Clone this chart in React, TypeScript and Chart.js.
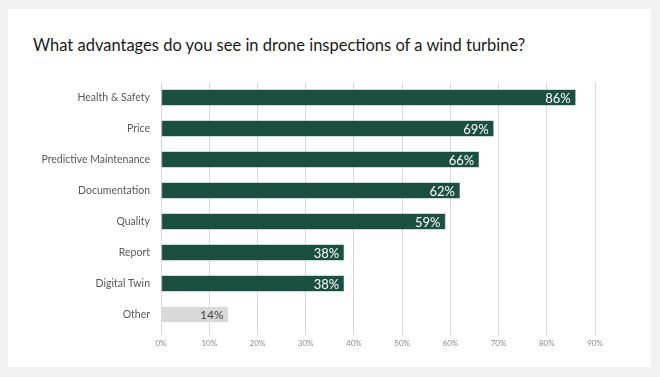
import React, { useEffect, useRef } from "react";
import { Chart, registerables } from "chart.js";

Chart.register(...registerables);

const titleText = "What advantages do you see in drone inspections of a wind turbine?";
const categories = [
  "Health & Safety",
  "Price",
  "Predictive Maintenance",
  "Documentation",
  "Quality",
  "Report",
  "Digital Twin",
  "Other",
];
const values = [86, 69, 66, 62, 59, 38, 38, 14];
const barColors = ["#1b5040", "#1b5040", "#1b5040", "#1b5040", "#1b5040", "#1b5040", "#1b5040", "#d9d9d9"];
const labelColors = ["#ffffff", "#ffffff", "#ffffff", "#ffffff", "#ffffff", "#ffffff", "#ffffff", "#404040"];
const xTicks = [0, 10, 20, 30, 40, 50, 60, 70, 80, 90];

const FONT = "Lato, 'Noto Sans', sans-serif";

const valueLabelPlugin = {
  id: "valueLabels",
  afterDatasetsDraw(chart: any) {
    const ctx = chart.ctx;
    const meta = chart.getDatasetMeta(0);
    ctx.save();
    meta.data.forEach((bar: any, i: number) => {
      const small = i === categories.length - 1;
      ctx.font = `${small ? 12 : 13}px ${FONT}`;
      ctx.fillStyle = labelColors[i];
      ctx.textAlign = "right";
      ctx.textBaseline = "middle";
      ctx.fillText(`${values[i]}%`, bar.x - 5, bar.y + 1);
    });
    ctx.restore();
  },
};

export default function App() {
  const ref = useRef<HTMLCanvasElement>(null);
  useEffect(() => {
    if (!ref.current) return;
    const chart = new Chart(ref.current, {
      type: "bar",
      data: {
        labels: categories,
        datasets: [
          {
            data: values,
            backgroundColor: barColors,
            borderColor: barColors.map((c) => (c === "#d9d9d9" ? "#e4e4e4" : "#3d6e5f")),
            borderWidth: 0.6,
            borderSkipped: false,
            barPercentage: 0.52,
            categoryPercentage: 1,
          },
        ],
      },
      options: {
        indexAxis: "y",
        animation: false,
        responsive: false,
        maintainAspectRatio: false,
        layout: { padding: { top: 82, bottom: 27, left: 0, right: 65 } },
        plugins: {
          legend: { display: false },
          tooltip: { enabled: false },
          title: { display: false },
        },
        scales: {
          x: {
            min: 0,
            max: 90,
            afterBuildTicks(scale: any) {
              scale.ticks = xTicks.map((v) => ({ value: v }));
            },
            afterFit(scale: any) {
              scale.height = 20;
            },
            grid: {
              color: "#d9d9d9",
              lineWidth: 1,
              drawTicks: true,
              tickLength: 5,
              tickColor: "#d9d9d9",
            },
            border: { display: false },
            ticks: {
              padding: 4,
              color: "#8c8c8c",
              font: { size: 8, family: FONT },
              callback: (v: any) => `${v}%`,
              maxRotation: 0,
            },
          },
          y: {
            afterFit(scale: any) {
              scale.width = 161;
            },
            grid: { display: false, drawTicks: false },
            border: { display: false },
            ticks: {
              padding: 11,
              color: "#595959",
              font: { size: 10.5, family: FONT },
              autoSkip: false,
            },
          },
        },
      },
      plugins: [valueLabelPlugin],
    });
    return () => chart.destroy();
  }, []);

  return (
    <div
      style={{
        position: "fixed",
        left: 0,
        top: 0,
        width: 660,
        height: 377,
        background: "#f2f2f2",
        overflow: "hidden",
      }}
    >
      <div
        style={{
          position: "absolute",
          left: 8,
          top: 9,
          width: 643,
          height: 358,
          background: "#ffffff",
        }}
      />
      <div
        style={{
          position: "absolute",
          left: 33,
          top: 34,
          fontFamily: FONT,
          fontSize: 16.5,
          color: "#1a1a1a",
          whiteSpace: "nowrap",
          lineHeight: "22px",
        }}
      >
        {titleText}
      </div>
      <canvas
        ref={ref}
        width={660}
        height={377}
        style={{ position: "absolute", left: 0, top: 0, width: 660, height: 377 }}
      />
    </div>
  );
}
